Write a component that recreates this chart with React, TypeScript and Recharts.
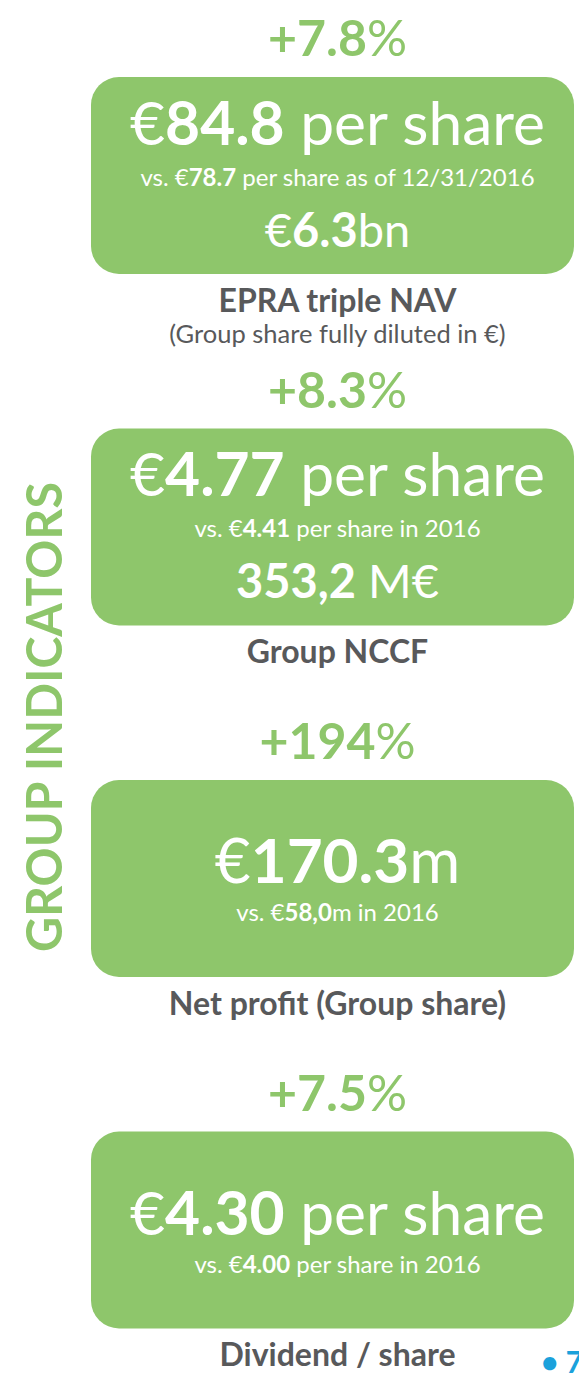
import { BarChart, Bar, XAxis, YAxis } from "recharts";

const indicators = ["EPRA triple NAV", "Group NCCF", "Net profit (Group share)", "Dividend / share"];
const notes = ["(Group share fully diluted in €)", "", "", ""];
const growthPct = [7.8, 8.3, 194, 7.5];
const currentValue = ["84.8", "4.77", "170.3", "4.30"];
const currentUnit = [" per share", " per share", "m", " per share"];
const previousValue = ["78.7", "4.41", "58,0", "4.00"];
const previousUnit = [" per share as of 12/31/2016", " per share in 2016", "m in 2016", " per share in 2016"];
const totalPrefix = ["€", "", "", ""];
const totalValue = ["6.3", "353,2", "", ""];
const totalSuffix = ["bn", " M€", "", ""];

const data = indicators.map((name, i) => ({ name, growth: growthPct[i] }));

const GREEN = "#8ec66b";
const GREY = "#58595b";
const FONT = "Lato, 'Open Sans', sans-serif";

function IndicatorBox(props: any) {
  const i = props.index;
  const bg = props.background ?? props;
  const { x, y, width, height } = bg;
  const cx = x + width / 2 + 5;
  const cy = y + height / 2;
  const hasTotal = totalValue[i] !== "";
  const big = !hasTotal && currentUnit[i] === "m";
  const mainY = hasTotal ? cy - 31 : cy + 4.5;
  const subY = hasTotal ? cy + 10 : cy + 42.5;
  const mainSize = big ? 62 : 60.5;
  return (
    <g fontFamily={FONT}>
      <rect x={x} y={y} width={width} height={height} rx={28} ry={28} fill={GREEN} />
      <text x={cx} y={cy - 119.5} textAnchor="middle" fill={GREEN} fontSize={50}>
        <tspan fontWeight="bold">+{growthPct[i]}</tspan>
        <tspan>%</tspan>
      </text>
      <text x={cx} y={mainY} textAnchor="middle" fill="#fff" fontSize={mainSize}>
        <tspan>€</tspan>
        <tspan fontWeight="bold">{currentValue[i]}</tspan>
        <tspan>{currentUnit[i]}</tspan>
      </text>
      <text x={cx} y={subY} textAnchor="middle" fill="#fff" fontSize={24}>
        <tspan>vs. €</tspan>
        <tspan fontWeight="bold">{previousValue[i]}</tspan>
        <tspan>{previousUnit[i]}</tspan>
      </text>
      {hasTotal && (
        <text x={cx} y={cy + 71} textAnchor="middle" fill="#fff" fontSize={47}>
          <tspan>{totalPrefix[i]}</tspan>
          <tspan fontWeight="bold">{totalValue[i]}</tspan>
          <tspan>{totalSuffix[i]}</tspan>
        </text>
      )}
      <text x={cx} y={cy + 136} textAnchor="middle" fill={GREY} fontSize={32} fontWeight="bold">
        {indicators[i]}
      </text>
      {notes[i] && (
        <text x={cx} y={cy + 167} textAnchor="middle" fill={GREY} fontSize={25.5}>
          {notes[i]}
        </text>
      )}
    </g>
  );
}

function SectionTitle(props: any) {
  const vb = props.viewBox;
  const tx = vb.x + 43;
  const ty = vb.y + vb.height * 0.51;
  return (
    <text
      x={tx}
      y={ty}
      transform={`rotate(-90 ${tx} ${ty})`}
      textAnchor="middle"
      dominantBaseline="central"
      fill={GREEN}
      fontFamily={FONT}
      fontWeight="bold"
      fontSize={50}
      textLength={470}
      lengthAdjust="spacingAndGlyphs"
    >
      GROUP INDICATORS
    </text>
  );
}

export default function App() {
  return (
    <div
      style={{
        position: "absolute",
        left: 0,
        top: 0,
        width: 579,
        height: 1373,
        overflow: "hidden",
        background: "#fff",
      }}
    >
      <BarChart
        layout="vertical"
        width={579}
        height={1406}
        data={data}
        margin={{ top: 0, right: 5, left: 0, bottom: 0 }}
        barSize={197}
      >
        <XAxis type="number" hide />
        <YAxis
          type="category"
          dataKey="name"
          width={91}
          tick={false}
          axisLine={false}
          tickLine={false}
          label={{ content: (p: any) => <SectionTitle {...p} /> }}
        />
        <Bar dataKey="growth" shape={<IndicatorBox />} isAnimationActive={false} />
      </BarChart>
      <div
        style={{
          position: "absolute",
          left: 541,
          top: 1343,
          fontFamily: FONT,
          fontWeight: "bold",
          fontSize: 30,
          color: "#1ba1db",
          whiteSpace: "nowrap",
        }}
      >
        • 7
      </div>
    </div>
  );
}
